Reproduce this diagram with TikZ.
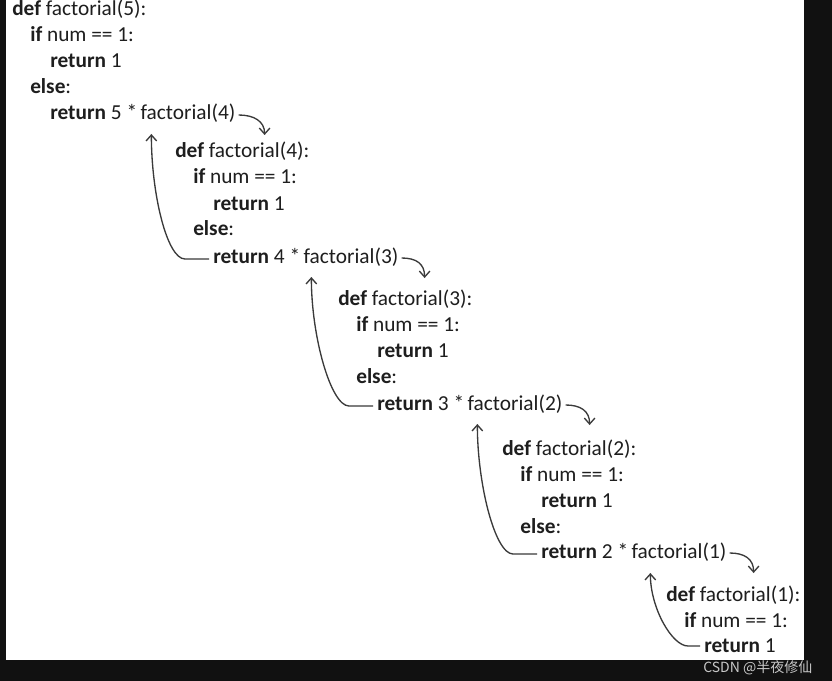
\documentclass[tikz,border=0pt]{standalone}
\usepackage{fontspec}
\setmainfont{Carlito}
\newfontfamily\cjkfont{Noto Sans CJK SC}
\usetikzlibrary{positioning,calc,arrows.meta}
\definecolor{codeink}{HTML}{1E1E1E}
\definecolor{arrowink}{HTML}{3A3A3A}
\definecolor{frameink}{HTML}{111111}
\definecolor{markink}{HTML}{C8C8C8}
\tikzset{
  code/.style={anchor=base west,inner sep=0pt,text=codeink,font=\fontsize{16}{18}\selectfont},
  call/.style={draw=arrowink,line width=1pt,-{Straight Barb[length=4.5pt,width=8pt]}},
  back/.style={call}
}
\begin{document}
\begin{tikzpicture}[x=0.75pt,y=-0.75pt]
\useasboundingbox (0,0) rectangle (832,681);
\fill[frameink] (0,0) rectangle (832,681);
\fill[white] (6,0) rectangle (804,660);
% factorial(5)
\node[code] (def5) at (12,16) {\textbf{def} factorial(5):};
\node[code] (if5) at (30,42) {\textbf{if} num == 1:};
\node[code] (one5) at (50,68) {\textbf{return} 1};
\node[code] (else5) at (30,94) {\textbf{else}:};
\node[code] (ret5) at (50,120) {\textbf{return} 5 *};
\node[code,right=0.22em of ret5.base east,anchor=base west] (fac4) {factorial(4)};
% factorial(4)
\node[code] (def4) at (175,158) {\textbf{def} factorial(4):};
\node[code] (if4) at (193,184) {\textbf{if} num == 1:};
\node[code] (one4) at (213,210) {\textbf{return} 1};
\node[code] (else4) at (193,236) {\textbf{else}:};
\node[code] (ret4) at (213,263) {\textbf{return} 4 *};
\node[code,right=0.22em of ret4.base east,anchor=base west] (fac3) {factorial(3)};
% factorial(3)
\node[code] (def3) at (338,305) {\textbf{def} factorial(3):};
\node[code] (if3) at (356,331) {\textbf{if} num == 1:};
\node[code] (one3) at (377,357) {\textbf{return} 1};
\node[code] (else3) at (356,383) {\textbf{else}:};
\node[code] (ret3) at (377,410) {\textbf{return} 3 *};
\node[code,right=0.22em of ret3.base east,anchor=base west] (fac2) {factorial(2)};
% factorial(2)
\node[code] (def2) at (502,455) {\textbf{def} factorial(2):};
\node[code] (if2) at (520,481) {\textbf{if} num == 1:};
\node[code] (one2) at (541,507) {\textbf{return} 1};
\node[code] (else2) at (520,533) {\textbf{else}:};
\node[code] (ret2) at (541,558) {\textbf{return} 2 *};
\node[code,right=0.22em of ret2.base east,anchor=base west] (fac1) {factorial(1)};
% factorial(1)
\node[code] (def1) at (666,601) {\textbf{def} factorial(1):};
\node[code] (if1) at (684,627) {\textbf{if} num == 1:};
\node[code] (one1) at (704,652) {\textbf{return} 1};
% calls going down
\coordinate (in4) at ($(fac4.base east)+(29,15)$);
\coordinate (in3) at ($(fac3.base east)+(26,15)$);
\coordinate (in2) at ($(fac2.base east)+(27,15)$);
\coordinate (in1) at ($(fac1.base east)+(27,15)$);
\draw[call] ($(fac4.base east)+(3,-5)$) .. controls +(15,0) and +(0,-14) .. (in4);
\draw[call] ($(fac3.base east)+(3,-5)$) .. controls +(15,0) and +(0,-14) .. (in3);
\draw[call] ($(fac2.base east)+(3,-5)$) .. controls +(15,0) and +(0,-14) .. (in2);
\draw[call] ($(fac1.base east)+(3,-5)$) .. controls +(15,0) and +(0,-14) .. (in1);
% values going back up
\coordinate (up4) at ($(fac4.base west)+(11,14)$);
\coordinate (up3) at ($(fac3.base west)+(8,14)$);
\coordinate (up2) at ($(fac2.base west)+(10,14)$);
\coordinate (up1) at ($(fac1.base west)+(19,15)$);
\draw[back] ($(ret4.base west)+(-4,-4)$) -- ++(-24,0) .. controls +(-18,0) and +(0,60) .. (up4);
\draw[back] ($(ret3.base west)+(-4,-4)$) -- ++(-24,0) .. controls +(-18,0) and +(0,60) .. (up3);
\draw[back] ($(ret2.base west)+(-4,-4)$) -- ++(-24,0) .. controls +(-18,0) and +(0,60) .. (up2);
\draw[back] ($(one1.base west)+(-4,-6)$) -- ++(-12,0) .. controls +(-16,0) and +(0,35) .. (up1);
% watermark
\node[anchor=base west,inner sep=0pt,text=markink,font=\cjkfont\fontsize{10.5}{12}\selectfont] (mark) at (703,672) {CSDN @半夜修仙};
\end{tikzpicture}
\end{document}
